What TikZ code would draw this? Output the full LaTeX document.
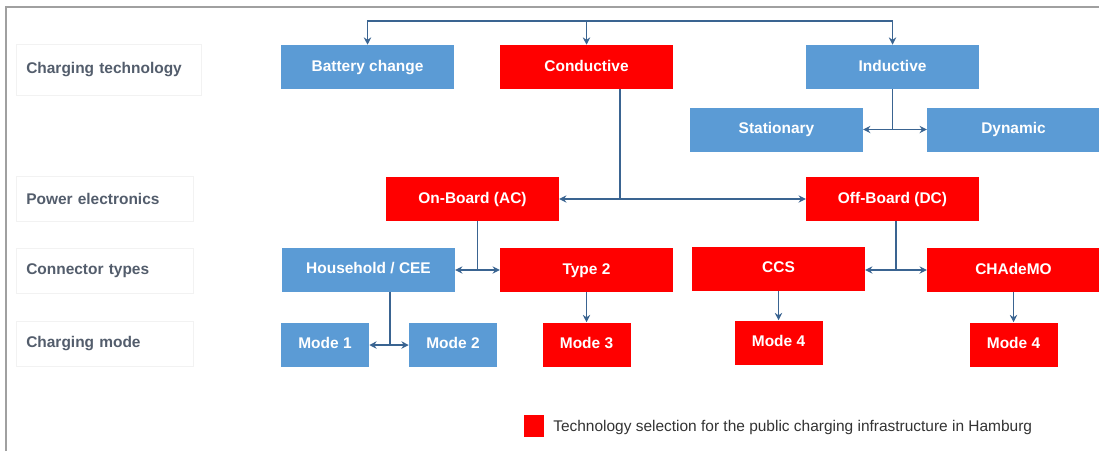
\documentclass[tikz,border=0pt]{standalone}
\usepackage{fontspec}
\setmainfont{Liberation Sans}
\usetikzlibrary{arrows.meta}

\definecolor{boxblue}{HTML}{5B9BD5}
\definecolor{boxred}{HTML}{FF0000}
\definecolor{wire}{HTML}{3A6491}
\definecolor{labelgray}{HTML}{535D6C}
\definecolor{legendgray}{HTML}{333333}
\definecolor{framegray}{HTML}{A0A0A0}

\tikzset{
  x=0.75pt, y=-0.75pt,
  box/.style={inner sep=0pt, minimum height=33pt, text=white,
              text height=8.4pt, text depth=2.4pt,
              font=\fontsize{11.6}{13}\selectfont\bfseries},
  wide/.style={box, minimum width=129.5pt},
  narrow/.style={box, minimum width=66pt},
  bluebox/.style={fill=boxblue},
  redbox/.style={fill=boxred},
  rowlabel/.style={anchor=west, draw=black!5, fill=white, inner xsep=7.5pt,
              inner ysep=0pt, minimum height=34pt, align=left, text=labelgray,
              font=\fontsize{11.6}{13}\selectfont\bfseries},
  wireline/.style={draw=wire, line width=1.45pt},
  arrow/.style={wireline, -{Stealth[length=5.5pt, width=5.5pt]}},
}

\begin{document}
\begin{tikzpicture}
  \useasboundingbox (0,0) rectangle (1099,451);

  % outer frame (left and top edges only)
  \draw[framegray, line width=1.2pt] (6,451) -- (6,7) -- (1099,7);

  % row labels
  \node[rowlabel, text width=124pt, minimum height=38pt] (lt) at (16,69.5) {Charging technology};
  \node[rowlabel, text width=118pt] (lp) at (16,199) {Power electronics};
  \node[rowlabel, text width=118pt] (lc) at (16,270.5) {Connector types};
  \node[rowlabel, text width=118pt] (lm) at (16,344) {Charging mode};

  % charging technology
  \node[wide, bluebox] (battery)    at (367.5,67)   {Battery change};
  \node[wide, redbox]  (conductive) at (586.5,67)   {Conductive};
  \node[wide, bluebox] (inductive)  at (892.5,67)   {Inductive};
  \node[wide, bluebox] (stationary) at (776.5,129.5) {Stationary};
  \node[wide, bluebox] (dynamic)    at (1013.5,129.5) {Dynamic};

  % power electronics
  \node[wide, redbox] (onboard)  at (472.5,199) {On-Board (AC)};
  \node[wide, redbox] (offboard) at (892.5,199) {Off-Board (DC)};

  % connector types
  \node[wide, bluebox] (household) at (368.5,269.5) {Household / CEE};
  \node[wide, redbox]  (type2)     at (586.5,270)   {Type 2};
  \node[wide, redbox]  (ccs)       at (778.5,268.5) {CCS};
  \node[wide, redbox]  (chademo)   at (1013.5,270)  {CHAdeMO};

  % charging modes
  \node[narrow, bluebox] (mode1)  at (325,344.5)  {Mode 1};
  \node[narrow, bluebox] (mode2)  at (453,344.5)  {Mode 2};
  \node[narrow, redbox]  (mode3)  at (586.5,344.5) {Mode 3};
  \node[narrow, redbox]  (mode4a) at (778.5,342.5)  {Mode 4};
  \node[narrow, redbox]  (mode4b) at (1013.5,344.5) {Mode 4};

  % top distribution bus
  \coordinate (bus) at (586.5,21);
  \draw[arrow] (bus) -| (battery.north);
  \draw[arrow] (bus) -| (inductive.north);
  \draw[arrow] (bus) -- (conductive.north);

  % inductive split
  \coordinate (ij) at (892.5,129.5);
  \draw[wireline] (inductive.south) -- (ij);
  \draw[arrow] (ij) -- (stationary.east);
  \draw[arrow] (ij) -- (dynamic.west);

  % conductive split
  \coordinate (cj) at (620,199);
  \draw[wireline] (conductive.south -| cj) -- (cj);
  \draw[arrow] (cj) -- (onboard.east);
  \draw[arrow] (cj) -- (offboard.west);

  % on-board split
  \coordinate (oj) at (477.5,270);
  \draw[wireline] (onboard.south -| oj) -- (oj);
  \draw[arrow] (oj) -- (oj -| household.east);
  \draw[arrow] (oj) -- (type2.west);

  % off-board split
  \coordinate (fj) at (896,270);
  \draw[wireline] (offboard.south -| fj) -- (fj);
  \draw[arrow] (fj) -- (fj -| ccs.east);
  \draw[arrow] (fj) -- (chademo.west);

  % household split
  \coordinate (hj) at (390,345);
  \draw[wireline] (household.south -| hj) -- (hj);
  \draw[arrow] (hj) -- (hj -| mode1.east);
  \draw[arrow] (hj) -- (hj -| mode2.west);

  % single modes
  \draw[arrow] (type2.south) -- (mode3.north);
  \draw[arrow] (ccs.south) -- (mode4a.north);
  \draw[arrow] (chademo.south) -- (mode4b.north);

  % legend
  \node[fill=boxred, inner sep=0pt, minimum width=15pt, minimum height=16.5pt] (key) at (534,426) {};
  \node[anchor=west, inner sep=0pt, text=legendgray, font=\fontsize{11.6}{13}\selectfont]
    (keytext) at (553,427) {Technology selection for the public charging infrastructure in Hamburg};
\end{tikzpicture}
\end{document}
